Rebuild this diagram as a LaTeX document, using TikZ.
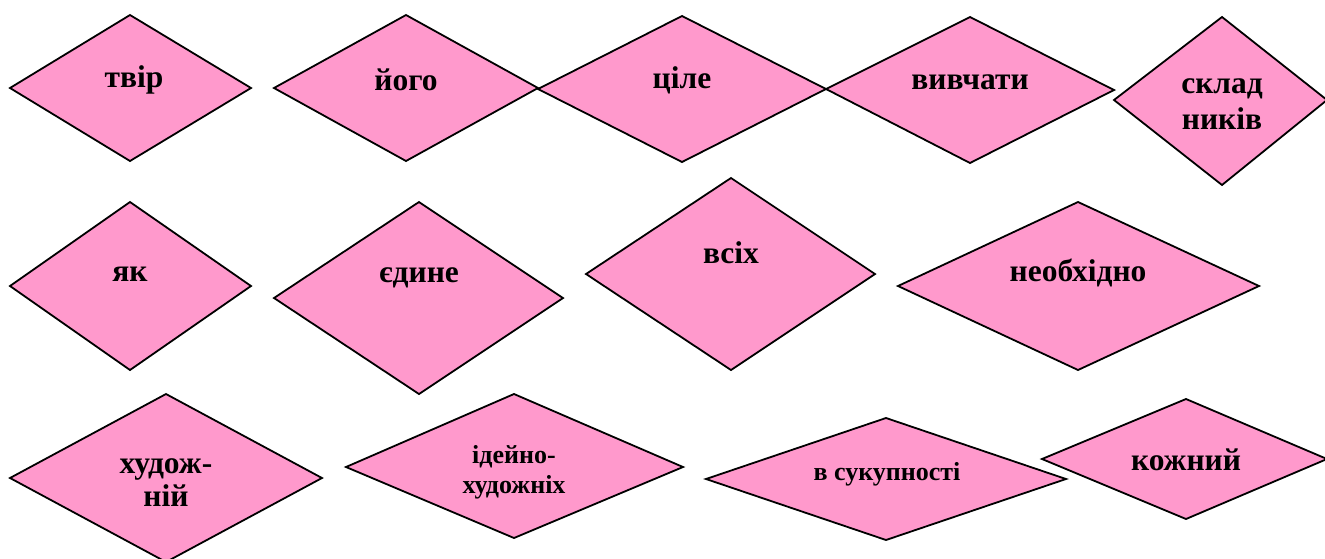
\documentclass[tikz,border=0pt]{standalone}
\usepackage{fontspec}
\setmainfont{Liberation Serif}
\definecolor{pinkc}{HTML}{FF99CC}
\begin{document}
\begin{tikzpicture}[x=1pt,y=-1pt,
  dia/.style={fill=pinkc, draw=black, line width=1.8pt, line join=miter},
  big/.style={font=\bfseries\fontsize{31.5}{36}\selectfont, align=center, inner sep=0pt},
  small/.style={font=\bfseries\fontsize{26}{30}\selectfont, align=center, inner sep=0pt}]
\useasboundingbox (0,0) rectangle (1325,558);
% row 1
\draw[dia] (10,88) -- (130,15) -- (251,88) -- (130,161) -- cycle;
\draw[dia] (274,88) -- (406,15) -- (538,88) -- (406,161) -- cycle;
\draw[dia] (538,89) -- (682,16) -- (826,89) -- (682,162) -- cycle;
\draw[dia] (826,89) -- (970,17) -- (1114,90) -- (970,163) -- cycle;
\draw[dia] (1114,100) -- (1222,17) -- (1327,100) -- (1222,185) -- cycle;
% row 2
\draw[dia] (10,286) -- (130,202) -- (251,286) -- (130,370) -- cycle;
\draw[dia] (274,298) -- (419,202) -- (563,298) -- (419,394) -- cycle;
\draw[dia] (586,274) -- (731,178) -- (875,274) -- (731,370) -- cycle;
\draw[dia] (898,286) -- (1078,202) -- (1259,286) -- (1078,370) -- cycle;
% row 3
\draw[dia] (10,478) -- (166,394) -- (322,478) -- (166,562) -- cycle;
\draw[dia] (346,467) -- (514,394) -- (683,467) -- (514,538) -- cycle;
\draw[dia] (706,479) -- (886,418) -- (1066,479) -- (886,540) -- cycle;
\draw[dia] (1042,459) -- (1186,399) -- (1327,459) -- (1186,519) -- cycle;
% labels
\node[big] (t1) at (134,80) {твір};
\node[big] (t2) at (406,80) {його};
\node[big] (t3) at (682,80) {ціле};
\node[big] (t4) at (970,82) {вивчати};
\node[big] (t5) at (1222,104) {склад\\ників};
\node[big] (t6) at (130,274) {як};
\node[big] (t7) at (419,278) {єдине};
\node[big] (t8) at (731,253) {всіх};
\node[big] (t9) at (1078,273) {необхідно};
\node[big, font=\bfseries\fontsize{31.5}{33}\selectfont] (t10) at (166,483) {худож-\\ній};
\node[small] (t11) at (514,472) {ідейно-\\художніх};
\node[small] (t12) at (887,474) {в сукупності};
\node[big] (t13) at (1186,460) {кожний};
\end{tikzpicture}
\end{document}
